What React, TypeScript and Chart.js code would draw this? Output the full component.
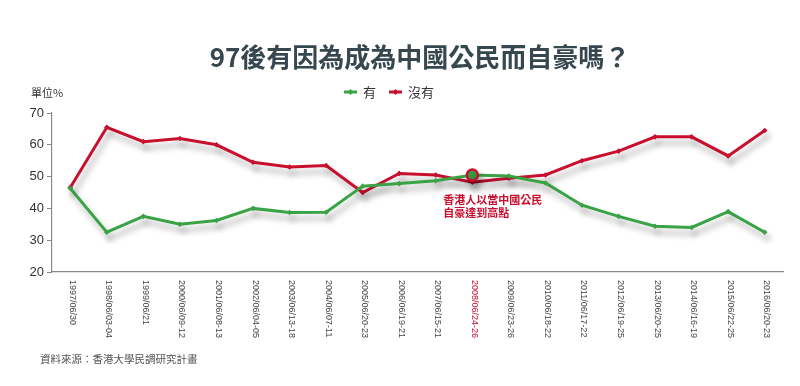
import React, { useEffect, useRef } from 'react';
import { Chart, registerables } from 'chart.js';

Chart.register(...registerables);

const categories = [
  '1997/06/30', '1998/06/03-04', '1999/06/21', '2000/06/09-12', '2001/06/08-13',
  '2002/06/04-05', '2003/06/13-18', '2004/06/07-11', '2005/06/20-23', '2006/06/19-21',
  '2007/06/15-21', '2008/06/24-26', '2009/06/23-26', '2010/06/18-22', '2011/06/17-22',
  '2012/06/19-25', '2013/06/20-25', '2014/06/16-19', '2015/06/22-25', '2016/06/20-23',
];
const yesValues = [46.3, 32.5, 37.5, 35, 36.2, 40, 38.7, 38.8, 47, 47.8, 48.7, 50.5, 50.2, 48, 41, 37.5, 34.4, 34, 39, 32.5];
const noValues = [46.6, 65.5, 61, 62, 60, 54.5, 53, 53.5, 45, 51, 50.5, 48.2, 49.5, 50.5, 55, 58, 62.5, 62.5, 56.5, 64.5];
const seriesNames = ['有', '沒有'];
const highlightLabel = '2008/06/24-26';
const annotationLines = ['香港人以當中國公民', '自豪達到高點'];
const titleText = '97後有因為成為中國公民而自豪嗎？';
const unitText = '單位%';
const sourceText = '資料來源：香港大學民調研究計畫';

const GREEN = '#3aa346';
const RED = '#c8102e';
const FONT = '"Noto Sans CJK TC", "Liberation Sans", sans-serif';

const highlightIndex = categories.indexOf(highlightLabel);

function drawMarker(ctx: CanvasRenderingContext2D, x: number, y: number, r: number, color: string) {
  ctx.beginPath();
  ctx.moveTo(x, y - r);
  ctx.lineTo(x + r, y);
  ctx.lineTo(x, y + r);
  ctx.lineTo(x - r, y);
  ctx.closePath();
  ctx.fillStyle = color;
  ctx.fill();
}

const customPlugin = {
  id: 'customDecor',
  beforeDatasetDraw(chart: any) {
    const ctx = chart.ctx;
    ctx.save();
    ctx.shadowColor = 'rgba(0,0,0,0.32)';
    ctx.shadowBlur = 6;
    ctx.shadowOffsetX = 3;
    ctx.shadowOffsetY = 6;
  },
  afterDatasetDraw(chart: any) {
    chart.ctx.restore();
  },
  afterDraw(chart: any) {
    const ctx: CanvasRenderingContext2D = chart.ctx;
    const xs = chart.scales.x;
    const ys = chart.scales.y;
    const area = chart.chartArea;
    ctx.save();

    // Title
    ctx.fillStyle = '#37474f';
    ctx.font = `bold 26px ${FONT}`;
    ctx.textAlign = 'center';
    ctx.textBaseline = 'middle';
    ctx.fillText(titleText, 420, 57);

    // Legend
    const colors = [GREEN, RED];
    let lx = 344;
    ctx.font = `13px ${FONT}`;
    ctx.textAlign = 'left';
    seriesNames.forEach((name, i) => {
      ctx.strokeStyle = colors[i];
      ctx.lineWidth = 3;
      ctx.beginPath();
      ctx.moveTo(lx, 92);
      ctx.lineTo(lx + 13, 92);
      ctx.stroke();
      drawMarker(ctx, lx + 6.5, 92, 3, colors[i]);
      ctx.fillStyle = '#333';
      ctx.fillText(name, lx + 19, 92);
      lx += 19 + ctx.measureText(name).width + 13;
    });

    // Unit
    ctx.font = `11px ${FONT}`;
    ctx.fillStyle = '#333';
    ctx.textAlign = 'left';
    ctx.fillText(unitText, 31, 93);

    // X labels rotated +90
    ctx.font = `9px "Liberation Sans", sans-serif`;
    categories.forEach((lab, i) => {
      const x = xs.getPixelForTick(i);
      ctx.save();
      ctx.translate(x + 2, area.bottom + 8);
      ctx.rotate(Math.PI / 2);
      ctx.textAlign = 'left';
      ctx.textBaseline = 'middle';
      ctx.fillStyle = i === highlightIndex ? RED : '#444';
      ctx.fillText(lab, 0, 0);
      ctx.restore();
    });

    // Annotation
    if (highlightIndex >= 0) {
      const px = xs.getPixelForValue(highlightIndex);
      const py = ys.getPixelForValue(yesValues[highlightIndex]);
      ctx.font = `bold 11px ${FONT}`;
      ctx.fillStyle = RED;
      ctx.textAlign = 'left';
      ctx.textBaseline = 'middle';
      annotationLines.forEach((t, k) => {
        ctx.fillText(t, px - 29, py + 25 + k * 12.5);
      });
    }

    // Source
    ctx.font = `10.5px ${FONT}`;
    ctx.fillStyle = '#555';
    ctx.textAlign = 'left';
    ctx.fillText(sourceText, 40, 359);

    ctx.restore();
  },
};

export default function App() {
  const ref = useRef<HTMLCanvasElement>(null);
  useEffect(() => {
    if (!ref.current) return;
    const isHi = (c: any) => c.dataIndex === highlightIndex;
    const chart = new Chart(ref.current, {
      type: 'line',
      data: {
        labels: categories,
        datasets: [
          {
            label: seriesNames[0],
            data: yesValues,
            borderColor: GREEN,
            backgroundColor: GREEN,
            borderWidth: 3,
            pointStyle: (c: any) => (isHi(c) ? 'circle' : 'rectRot'),
            pointRadius: (c: any) => (isHi(c) ? 5.5 : 2.8),
            pointBorderColor: (c: any) => (isHi(c) ? RED : GREEN),
            pointBorderWidth: (c: any) => (isHi(c) ? 2.5 : 0),
            pointBackgroundColor: GREEN,
            tension: 0,
          } as any,
          {
            label: seriesNames[1],
            data: noValues,
            borderColor: RED,
            backgroundColor: RED,
            borderWidth: 3,
            pointStyle: 'rectRot',
            pointRadius: 2.8,
            pointBorderWidth: 0,
            tension: 0,
          },
        ],
      },
      options: {
        animation: false,
        responsive: false,
        layout: { padding: { left: 8, right: 17, top: 113, bottom: 114 } },
        plugins: {
          legend: { display: false },
          title: { display: false },
          tooltip: { enabled: false },
        },
        scales: {
          x: {
            offset: true,
            grid: { display: false },
            border: { display: true, color: '#8a8a8a', width: 1.2 },
            ticks: { display: false },
            afterFit: (s: any) => { s.height = 0; },
          },
          y: {
            min: 20,
            max: 70,
            ticks: {
              stepSize: 10,
              color: '#333',
              font: { family: '"Liberation Sans", sans-serif', size: 13 },
              padding: 3,
            },
            grid: { display: true, drawOnChartArea: false, drawTicks: true, tickLength: 5, color: '#8a8a8a' },
            border: { display: true, color: '#8a8a8a', width: 1.2 },
            afterFit: (s: any) => { s.width = 44; },
          },
        },
      },
      plugins: [customPlugin],
    } as any);
    return () => chart.destroy();
  }, []);
  return (
    <div style={{ position: 'fixed', left: 0, top: 0, width: 800, height: 386, background: '#fff' }}>
      <canvas ref={ref} width={800} height={386} style={{ width: 800, height: 386, display: 'block' }} />
    </div>
  );
}
